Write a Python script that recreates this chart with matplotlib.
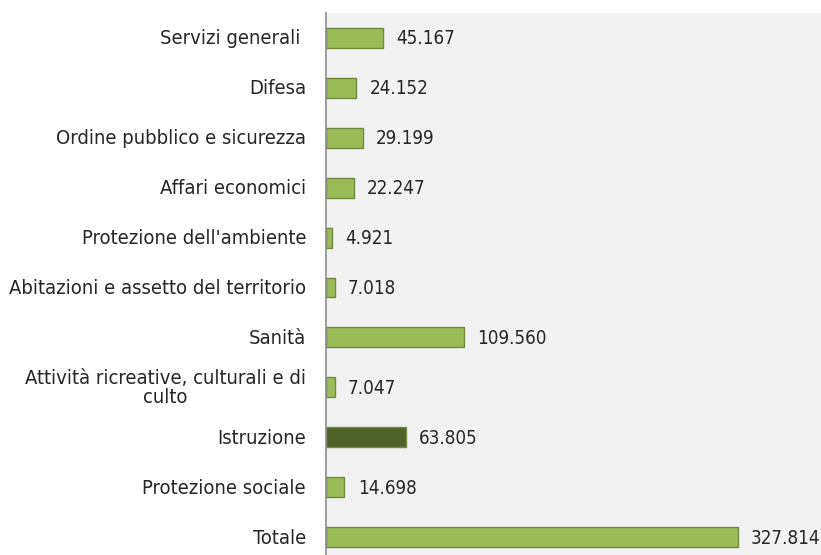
import matplotlib.pyplot as plt

# spending by function (top to bottom)
categories = ['Servizi generali ', 'Difesa', 'Ordine pubblico e sicurezza',
              'Affari economici', "Protezione dell'ambiente",
              'Abitazioni e assetto del territorio', 'Sanità',
              'Attività ricreative, culturali e di\nculto', 'Istruzione',
              'Protezione sociale', 'Totale']
values = [45.167, 24.152, 29.199, 22.247, 4.921, 7.018, 109.560,
          7.047, 63.805, 14.698, 327.814]
highlight = 'Istruzione'

plt.rcParams['font.family'] = 'DejaVu Sans'
plt.rcParams['font.stretch'] = 'condensed'

W, H = 821, 555
x0 = 326
fig = plt.figure(figsize=(W / 100, H / 100), dpi=100)
ax = fig.add_axes([x0 / W, -7 / H, 1 - x0 / W, 549 / H])
ax.set_facecolor('#f2f2f2')

ypos = list(range(len(categories)))
colors = ['#4f6228' if c == highlight else '#9bbb59' for c in categories]
ax.barh(ypos, values, height=0.4, color=colors, edgecolor='#71893f', linewidth=1)

for y, v in zip(ypos, values):
    ax.text(v + 10.5, y + 0.02, '%.3f' % v, va='center', ha='left',
            fontsize=13.5, color='#262626')

# category labels, right aligned 20px left of the axis
for y, c in zip(ypos, categories):
    ax.text(-20 / (W - x0), y + 0.02, c, transform=ax.get_yaxis_transform(),
            ha='right', va='center', multialignment='center',
            fontsize=14.5, color='#262626', linespacing=1.0)

ax.set_xlim(0, 394)
ax.set_ylim(len(categories) - 0.5, -0.5)
ax.set_xticks([])
ax.set_yticks([])

for s in ['top', 'right', 'bottom']:
    ax.spines[s].set_visible(False)
ax.spines['left'].set_color('#8c8c8c')
ax.spines['left'].set_linewidth(1.2)

fig.savefig('out.png', dpi=100)
